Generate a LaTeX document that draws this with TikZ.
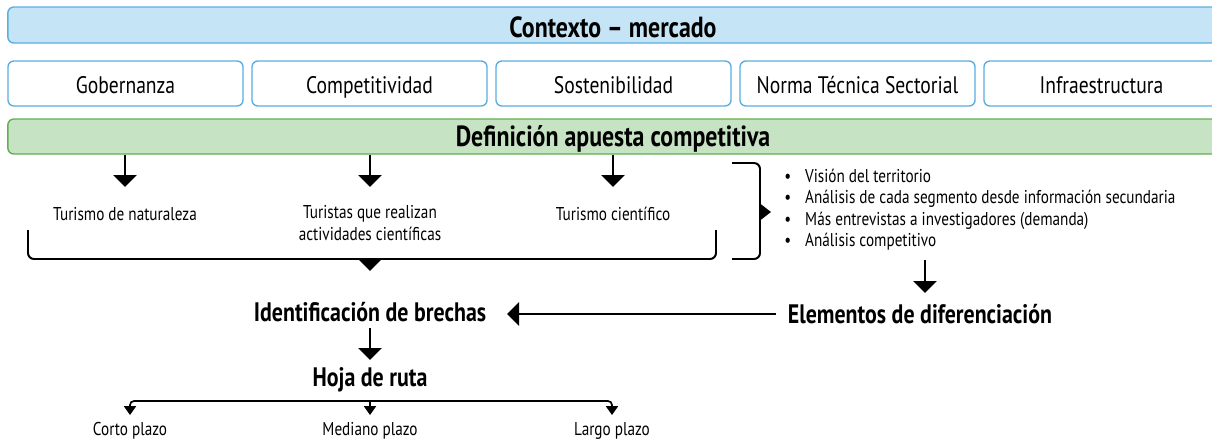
\documentclass[tikz,border=0pt]{standalone}
\usepackage{fontspec}
\setmainfont{PT Sans}[FakeStretch=0.82]
\usetikzlibrary{arrows.meta}

\definecolor{ctxfill}{HTML}{C5E4F5}
\definecolor{ctxline}{HTML}{5AAFE1}
\definecolor{apufill}{HTML}{C6E3C4}
\definecolor{apuline}{HTML}{60B050}

\newcommand{\titulo}{\fontsize{20.7}{24}\selectfont\bfseries}
\newcommand{\cajafont}{\fontsize{17}{20}\selectfont}
\newcommand{\medio}{\fontsize{19}{22}\selectfont\bfseries}
\newcommand{\chico}{\fontsize{13.2}{15.3}\selectfont}

\tikzset{
  barctx/.style={draw=ctxline, fill=ctxfill, line width=1pt, rounded corners=0.15cm,
    minimum width=30.25cm, minimum height=0.9cm, inner sep=0pt, font=\titulo,
    text height=18pt, text depth=0.7pt},
  barapu/.style={draw=apuline, fill=apufill, line width=1pt, rounded corners=0.15cm,
    minimum width=30.25cm, minimum height=0.875cm, inner sep=0pt, font=\titulo,
    text height=15pt, text depth=0.5pt},
  caja/.style={draw=ctxline, fill=white, line width=1pt, rounded corners=0.15cm,
    minimum width=5.875cm, minimum height=1.125cm, inner sep=0pt, font=\cajafont,
    text height=14.5pt, text depth=0.5pt},
  txt/.style={inner sep=0pt, font=\chico, align=center},
  negrita/.style={inner sep=0pt, font=\medio},
  flecha/.style={line width=1.4pt, -{Triangle[width=0.58cm,length=0.3cm]}},
  flechita/.style={line width=1.2pt, -{Triangle[width=0.3cm,length=0.22cm]}},
  llave/.style={line width=1.4pt, rounded corners=0.15cm},
}

\begin{document}
\begin{tikzpicture}[x=0.025cm,y=-0.025cm]
	\clip (0,0) rectangle (1212,443);
	
	\node[barctx] (contexto) at (613,25) {Contexto – mercado};
	
	\node[caja] (gob) at (125.5,83.5) {Gobernanza};
	\node[caja] (comp) at (369.5,83.5) {Competitividad};
	\node[caja] (sost) at (613.5,83.5) {Sostenibilidad};
	\node[caja] (norma) at (857.5,83.5) {Norma Técnica Sectorial};
	\node[caja] (infra) at (1101.5,83.5) {Infraestructura};
	
	\node[barapu] (apuesta) at (613,136.5) {Definición apuesta competitiva};
	
	% segmentos
	\node[txt] (tnat) at (125,214) {Turismo de naturaleza};
	\node[txt] (tact) at (370,223) {Turistas que realizan\\actividades científicas};
	\node[txt] (tcie) at (613,214) {Turismo científico};
	
	\coordinate (f1) at (125,187);
	\coordinate (f2) at (370,187);
	\coordinate (f3) at (613,187);
	\draw[flecha] (apuesta.south -| tnat) -- (f1);
	\draw[flecha] (apuesta.south -| tact) -- (f2);
	\draw[flecha] (apuesta.south -| tcie) -- (f3);
	
	\draw[llave] (28,230) |- (716,259) -- (716,230);
	\coordinate (brk) at (370,258);
	\coordinate (brk2) at (370,271);
	\draw[flecha] (brk) -- (brk2);
	
	\draw[llave] (732,163) -| (760,259) -- (732,259);
	\coordinate (ll) at (759,212);
	\coordinate (ll2) at (771,212);
	\draw[line width=1.4pt, -{Triangle[width=0.42cm,length=0.28cm]}] (ll) -- (ll2);
	
	\node[txt, align=left, anchor=west] (lista) at (784,209.5) {%
		\textbullet\hspace{10pt}Visión del territorio\\
		\textbullet\hspace{10pt}Análisis de cada segmento desde información secundaria\\
		\textbullet\hspace{10pt}Más entrevistas a investigadores (demanda)\\
		\textbullet\hspace{10pt}Análisis competitivo};
	
	\node[negrita] (elem) at (920,314) {Elementos de diferenciación};
	\node[negrita] (brechas) at (370,312) {Identificación de brechas};
	\node[negrita] (hoja) at (370,380) {Hoja de ruta};
	
	\coordinate (l1) at (925,260);
	\coordinate (l2) at (925,293);
	\draw[flecha] (l1) -- (l2);
	
	\coordinate (e0) at (776,314);
	\coordinate (b0) at (507,314);
	\draw[flecha] (e0) -- (b0);
	
	\coordinate (b1) at (370,328);
	\coordinate (b2) at (370,360);
	\draw[flecha] (b1) -- (b2);
	
	% plazos
	\node[txt] (corto) at (130,431) {Corto plazo};
	\node[txt] (mediano) at (370,431) {Mediano plazo};
	\node[txt] (largo) at (612,431) {Largo plazo};
	
	\coordinate (hj) at (370,401);
	\coordinate (p1) at (130,415);
	\coordinate (p2) at (370,415);
	\coordinate (p3) at (612,415);
	\draw[flechita, rounded corners=0.1cm] (hj) -| (p1);
	\draw[flechita] (hj) -- (p2);
	\draw[flechita, rounded corners=0.1cm] (hj) -| (p3);
\end{tikzpicture}
\end{document}
